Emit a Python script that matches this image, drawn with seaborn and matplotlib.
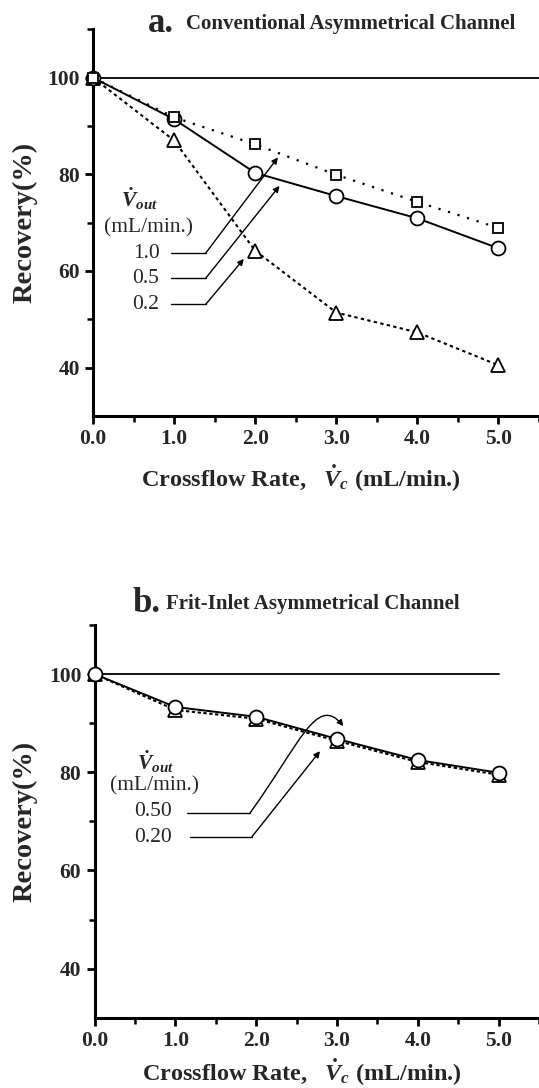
import numpy as np
import pandas as pd
import matplotlib
matplotlib.use("Agg")
import matplotlib.pyplot as plt
import seaborn as sns
from matplotlib.ticker import FixedLocator
from matplotlib.patches import FancyArrowPatch
from matplotlib.path import Path

# ---------------- data ----------------
crossflow = [0.0, 1.0, 2.0, 3.0, 4.0, 5.0]

# panel a: conventional asymmetrical channel
a_vout_10 = [100.0, 91.8, 86.2, 79.9, 74.3, 68.9]   # squares, dotted
a_vout_05 = [100.0, 91.4, 80.3, 75.5, 70.9, 64.7]   # circles, solid
a_vout_02 = [100.0, 87.0, 64.2, 51.4, 47.3, 40.5]   # triangles, dashed

# panel b: frit-inlet asymmetrical channel
b_vout_050 = [100.0, 93.3, 91.3, 86.8, 82.5, 79.9]  # circles, solid
b_vout_020 = [100.0, 92.7, 90.9, 86.4, 82.1, 79.5]  # triangles, dotted

x_ticks = [0.0, 1.0, 2.0, 3.0, 4.0, 5.0]
x_tick_labels = ["0.0", "1.0", "2.0", "3.0", "4.0", "5.0"]
y_ticks = [40, 60, 80, 100]
y_tick_labels = ["40", "60", "80", "100"]
a_vout_labels = ["1.0", "0.5", "0.2"]
b_vout_labels = ["0.50", "0.20"]

# ---------------- style ----------------
sns.set_style("ticks")
plt.rcParams["font.family"] = ["Liberation Serif", "DejaVu Serif"]
plt.rcParams["mathtext.fontset"] = "custom"
plt.rcParams["mathtext.rm"] = "Liberation Serif:bold"
plt.rcParams["mathtext.it"] = "Liberation Serif:italic:bold"
plt.rcParams["mathtext.bf"] = "Liberation Serif:bold"

W, H = 539, 1088
fig = plt.figure(figsize=(W / 100, H / 100), dpi=100)


def fx(px):
    return px / W


def fy(py):
    return 1 - py / H


ax_a = fig.add_axes([fx(93), fy(416), fx(W - 93), (416 - 29.3) / H])
ax_b = fig.add_axes([fx(94.5), fy(1017.7), fx(W - 94.5), (1017.7 - 625) / H])

TICK_FS = 15.5
XLABEL_FS = 17.5
YLABEL_FS = 20.5
ANN_FS = 15.5


def style_axis(ax, xlab_pos, ylab_pos):
    ax.set_xlim(0, 5.5)
    ax.set_ylim(30, 110)
    for s in ["top", "right"]:
        ax.spines[s].set_visible(False)
    for s in ["left", "bottom"]:
        ax.spines[s].set_linewidth(2.2)
        ax.spines[s].set_color("black")
    ax.xaxis.set_major_locator(FixedLocator(x_ticks))
    ax.set_xticklabels(x_tick_labels)
    ax.xaxis.set_minor_locator(FixedLocator([0.5, 1.5, 2.5, 3.5, 4.5, 5.5]))
    ax.yaxis.set_major_locator(FixedLocator(y_ticks))
    ax.set_yticklabels(y_tick_labels)
    ax.yaxis.set_minor_locator(FixedLocator([50, 70, 90, 110]))
    ax.tick_params(which="major", length=5.5, width=2.0, direction="out",
                   labelsize=TICK_FS, pad=4, color="black")
    ax.tick_params(which="minor", length=4, width=1.8, direction="out", color="black")
    for lab in ax.get_xticklabels() + ax.get_yticklabels():
        lab.set_fontweight("bold")
    ax.set_xlabel(r"Crossflow Rate,   $\dot{V}_c$ (mL/min.)", fontsize=XLABEL_FS,
                  fontweight="bold", va="center", ha="center")
    ax.xaxis.set_label_coords(*xlab_pos)
    ax.set_ylabel("Recovery(%)", fontsize=YLABEL_FS, fontweight="bold",
                  va="center", ha="center")
    ax.yaxis.set_label_coords(*ylab_pos)
    ax.set_facecolor("white")


def series(ax, y, marker, ms, ls, lw, z):
    sns.lineplot(x=crossflow, y=y, ax=ax, color="black", marker=marker,
                 markersize=ms, markerfacecolor="white", markeredgecolor="black",
                 markeredgewidth=1.3, linestyle=ls, linewidth=lw, zorder=z,
                 clip_on=False, legend=False, errorbar=None)


# ---------------- panel a ----------------
ax_a.axhline(100, color="black", lw=1.3, zorder=1)
series(ax_a, a_vout_02, "^", 10, (0, (1.6, 1.6)), 1.5, 3)
series(ax_a, a_vout_05, "o", 10, "-", 1.4, 4)
series(ax_a, a_vout_10, "s", 7.5, (0, (1, 3.5)), 1.6, 5)
style_axis(ax_a, ((300.8 - 93) / (W - 93), (416 - 478) / (416 - 29.3)),
           ((25 - 93) / (W - 93), 0.5))

# annotation legend (panel a)
ax_a.text(0.57, 74.9, r"$\dot{V}_{out}$", fontsize=ANN_FS, ha="center", va="center")
ax_a.text(0.68, 68.9, "(mL/min.)", fontsize=ANN_FS, ha="center", va="center")
a_lab_y = [63.7, 58.5, 53.1]
a_tips = [(2.28, 83.5), (2.30, 77.6), (1.86, 62.5)]
for lab, yy, tip in zip(a_vout_labels, a_lab_y, a_tips):
    ax_a.text(0.82, yy, lab, fontsize=ANN_FS, ha="right", va="center")
    ax_a.plot([0.96, 1.39], [yy, yy], color="black", lw=1.0)
    ax_a.annotate("", xy=tip, xytext=(1.39, yy),
                  arrowprops=dict(arrowstyle="-|>", color="black", lw=1.0,
                                  mutation_scale=9, shrinkA=0, shrinkB=0))

# ---------------- panel b ----------------
ax_b.plot([0, 5.0], [100, 100], color="black", lw=1.3, zorder=1)
series(ax_b, b_vout_020, "^", 10, (0, (1.6, 1.2)), 1.5, 3)
series(ax_b, b_vout_050, "o", 10, "-", 1.4, 4)
style_axis(ax_b, ((301.6 - 94.5) / (W - 94.5), (1017.7 - 1071.7) / (1017.7 - 625)),
           ((25 - 94.5) / (W - 94.5), 0.5))

ax_b.text(0.76, 82.1, r"$\dot{V}_{out}$", fontsize=ANN_FS, ha="center", va="center")
ax_b.text(0.74, 77.2, "(mL/min.)", fontsize=ANN_FS, ha="center", va="center")
ax_b.text(0.96, 72.1, b_vout_labels[0], fontsize=ANN_FS, ha="right", va="center")
ax_b.text(0.96, 66.8, b_vout_labels[1], fontsize=ANN_FS, ha="right", va="center")
# 0.50 : curved arrow
ax_b.plot([1.15, 1.92], [71.6, 71.6], color="black", lw=1.0)
curve = Path([(1.92, 71.6), (2.55, 86.0), (2.75, 96.0), (3.08, 89.4)],
             [Path.MOVETO, Path.CURVE4, Path.CURVE4, Path.CURVE4])
ax_b.add_patch(FancyArrowPatch(path=curve, arrowstyle="-|>", color="black", lw=1.0,
                               mutation_scale=9, transform=ax_b.transData, zorder=6))
# 0.20 : straight arrow
ax_b.plot([1.18, 1.95], [66.9, 66.9], color="black", lw=1.0)
ax_b.annotate("", xy=(2.79, 84.3), xytext=(1.95, 66.9),
              arrowprops=dict(arrowstyle="-|>", color="black", lw=1.0,
                              mutation_scale=9, shrinkA=0, shrinkB=0))

# ---------------- titles ----------------
fig.text(fx(147.8), fy(24), "a.", fontsize=25, fontweight="bold", ha="left", va="center")
fig.text(fx(185.6), fy(24), "Conventional Asymmetrical Channel", fontsize=15,
         fontweight="bold", ha="left", va="center")
fig.text(fx(132.3), fy(603), "b.", fontsize=25, fontweight="bold", ha="left", va="center")
fig.text(fx(166), fy(604), "Frit-Inlet Asymmetrical Channel", fontsize=15,
         fontweight="bold", ha="left", va="center")

fig.savefig("out.png", dpi=100, facecolor="white")
